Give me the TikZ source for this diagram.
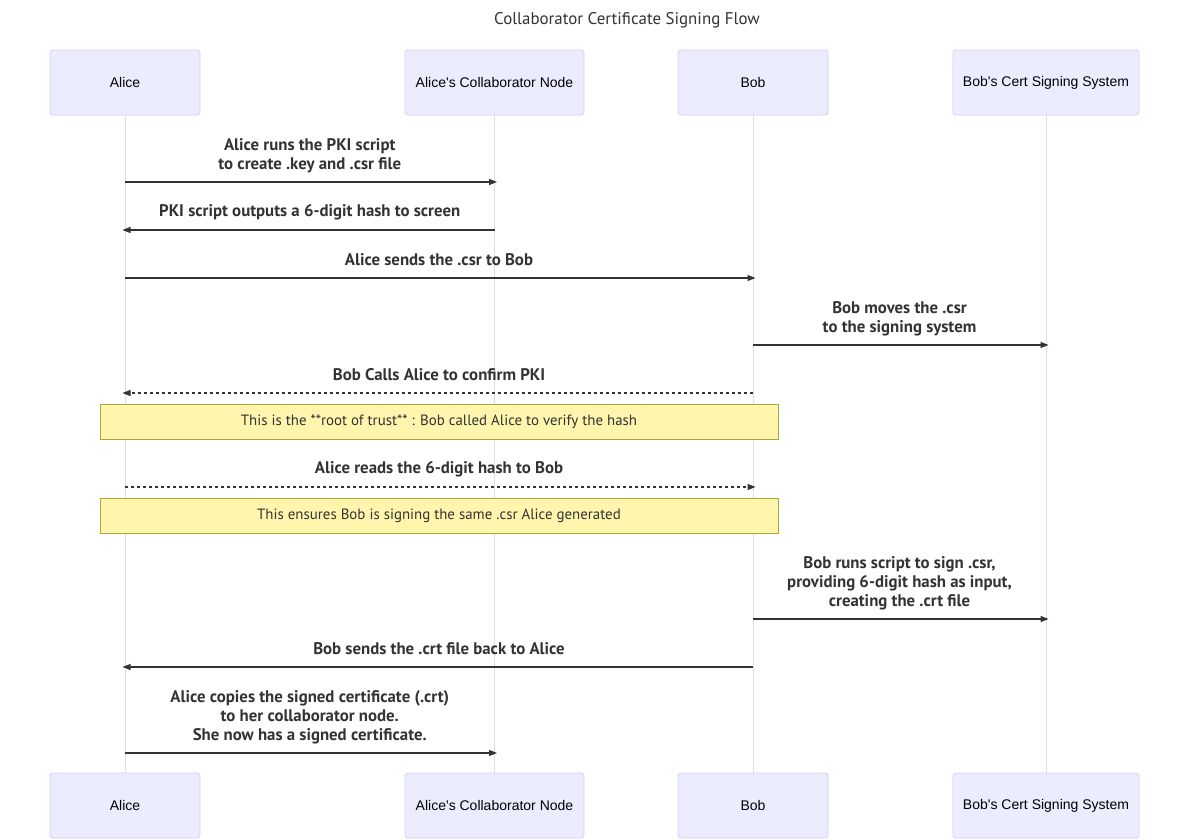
\documentclass[tikz,border=0pt]{standalone}
\usepackage{fontspec}
\setmainfont{Liberation Sans}
\newfontfamily\msgfont{PT Sans}
\usetikzlibrary{arrows.meta}
\definecolor{actorfill}{HTML}{ECECFF}
\definecolor{actorline}{HTML}{DACEF3}
\definecolor{notefill}{HTML}{FFF5AD}
\definecolor{noteline}{HTML}{AAAA33}
\definecolor{ink}{HTML}{333333}
\definecolor{lifegray}{HTML}{DDDDDD}
\tikzset{
  actor/.style={draw=actorline, fill=actorfill, rounded corners=3pt, line width=0.8pt,
    minimum height=65pt, inner sep=0pt, font=\fontsize{14}{16}\selectfont, text=black},
  life/.style={draw=lifegray, line width=1pt},
  msg/.style={draw=ink, line width=1.1pt, shorten >=-2.5pt, -{Triangle[length=8pt,width=6pt]}},
  reply/.style={msg, dash pattern=on 3pt off 3pt},
  lbl/.style={midway, align=center, inner sep=0pt, text=ink,
    font=\msgfont\bfseries\fontsize{16.8}{19}\selectfont},
  note/.style={draw=noteline, fill=notefill, line width=0.8pt, inner sep=0pt,
    minimum width=678pt, minimum height=35pt, text=ink,
    font=\msgfont\fontsize{14.9}{17}\selectfont},
}
\begin{document}
\begin{tikzpicture}[x=1pt,y=-1pt]
\useasboundingbox[fill=white] (0,0) rectangle (1189,839);

\node[text=ink, font=\msgfont\fontsize{16.9}{19}\selectfont] (title) at (627,20) {Collaborator Certificate Signing Flow};

% participants, top row
\node[actor, minimum width=150pt] (aliceT)  at (125,82.5)   {Alice};
\node[actor, minimum width=179pt] (collabT) at (494.5,82.5) {Alice\textquotesingle s Collaborator Node};
\node[actor, minimum width=150pt] (bobT)    at (753,82.5)   {Bob};
\node[actor, minimum width=186pt] (signT)   at (1046,82.5)  {Bob\textquotesingle s Cert Signing System};

% participants, bottom row
\node[actor, minimum width=150pt] (aliceB)  at (125,805.5)   {Alice};
\node[actor, minimum width=179pt] (collabB) at (494.5,805.5) {Alice\textquotesingle s Collaborator Node};
\node[actor, minimum width=150pt] (bobB)    at (753,805.5)   {Bob};
\node[actor, minimum width=186pt] (signB)   at (1046,805.5)  {Bob\textquotesingle s Cert Signing System};

% lifelines
\draw[life] (aliceT) -- (aliceB);
\draw[life] (collabT) -- (collabB);
\draw[life] (bobT) -- (bobB);
\draw[life] (signT) -- (signB);

% notes
\node[note] (note1) at (439,422) {This is the **root of trust** : Bob called Alice to verify the hash};
\node[note] (note2) at (439,515.5) {This ensures Bob is signing the same .csr Alice generated};

% messages
\draw[msg] (aliceT |- 0,182) -- (collabT |- 0,182)
  node[lbl, yshift=26pt] {Alice runs the PKI script\\to create .key and .csr file};
\draw[msg] (collabT |- 0,230) -- (aliceT |- 0,230)
  node[lbl, yshift=18pt] {PKI script outputs a 6-digit hash to screen};
\draw[msg] (aliceT |- 0,278) -- (bobT |- 0,278)
  node[lbl, yshift=18pt] {Alice sends the .csr to Bob};
\draw[msg] (bobT |- 0,345) -- (signT |- 0,345)
  node[lbl, yshift=26pt] {Bob moves the .csr\\to the signing system};
\draw[reply] (bobT |- 0,393) -- (aliceT |- 0,393)
  node[lbl, yshift=18pt] {Bob Calls Alice to confirm PKI};
\draw[reply] (aliceT |- 0,487) -- (bobT |- 0,487)
  node[lbl, yshift=18pt] {Alice reads the 6-digit hash to Bob};
\draw[msg] (bobT |- 0,619) -- (signT |- 0,619)
  node[lbl, yshift=35.5pt] {Bob runs script to sign .csr,\\providing 6-digit hash as input,\\creating the .crt file};
\draw[msg] (bobT |- 0,667) -- (aliceT |- 0,667)
  node[lbl, yshift=18pt] {Bob sends the .crt file back to Alice};
\draw[msg] (aliceT |- 0,753) -- (collabT |- 0,753)
  node[lbl, yshift=35.5pt] {Alice copies the signed certificate (.crt)\\to her collaborator node.\\She now has a signed certificate.};
\end{tikzpicture}
\end{document}
